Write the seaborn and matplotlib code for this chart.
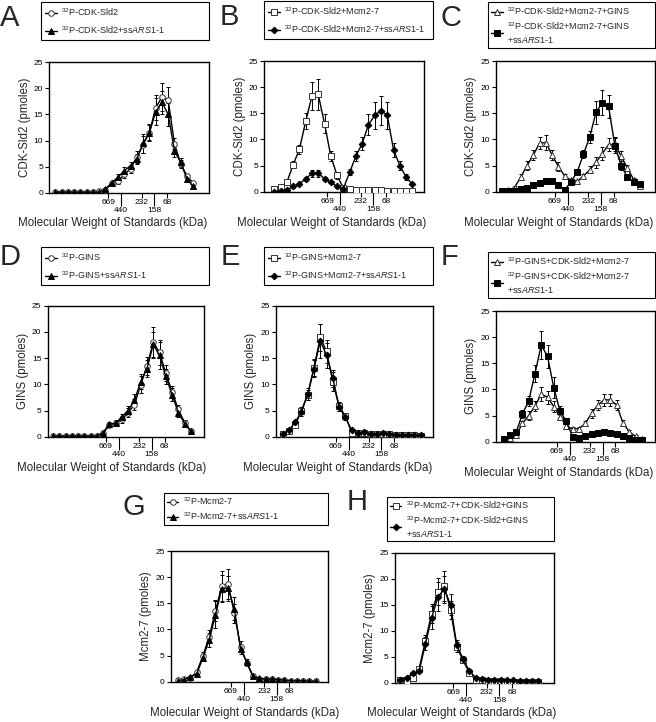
from __future__ import annotations

import matplotlib

matplotlib.use("Agg")
import matplotlib.pyplot as plt
import pandas as pd
import seaborn as sns

FIG_W, FIG_H = 656, 722

# gel filtration fractions and where the size standards elute
FRACTIONS = [1, 2, 3, 4, 5, 6, 7, 8, 9, 10, 11, 12, 13, 14, 15, 16, 17, 18, 19, 20, 21, 22, 23]
STANDARD_KDA = ["669", "440", "232", "158", "68"]
STANDARD_FRACTION = [9.45, 11.5, 14.75, 16.75, 18.8]

# --- A: 32P-CDK-Sld2 +/- ssARS1-1
A_FREE = [0.2, 0.2, 0.2, 0.2, 0.2, 0.2, 0.2, 0.3, 0.5, 1.9, 2.2, 3.5, 4.6, 6.8, 9.2, 11.5, 16.3, 18.3, 17.7, 9.4, 5.5, 3.2, 1.8]
A_FREE_ERR = [0.1, 0.1, 0.1, 0.1, 0.1, 0.1, 0.1, 0.1, 0.2, 0.4, 0.5, 0.7, 0.8, 1.2, 1.6, 1.6, 2.4, 2.7, 2.6, 1.0, 0.7, 0.4, 0.2]
A_SS = [0.1, 0.1, 0.1, 0.1, 0.1, 0.1, 0.1, 0.1, 0.7, 1.9, 3.0, 4.2, 5.2, 6.5, 9.5, 11.5, 15.5, 17.3, 15.0, 8.0, 5.8, 2.6, 1.2]
A_SS_ERR = [0.1, 0.1, 0.1, 0.1, 0.1, 0.1, 0.1, 0.1, 0.2, 0.3, 0.6, 0.8, 0.6, 1.0, 1.8, 1.4, 2.6, 2.2, 2.2, 1.2, 0.9, 0.4, 0.2]

# --- B: 32P-CDK-Sld2 + Mcm2-7
B_FREE = [0.5, 0.9, 1.8, 5.2, 8.1, 13.5, 18.3, 18.6, 13.0, 6.8, 3.1, 0.7, 0.5, 0.4, 0.4, 0.4, 0.3, 0.3, 0.2, 0.2, 0.2, 0.1, 0.1]
B_FREE_ERR = [0.1, 0.2, 0.3, 0.6, 0.8, 1.6, 2.7, 2.9, 1.8, 1.0, 0.6, 0.2, 0.1, 0.1, 0.1, 0.1, 0.1, 0.1, 0.1, 0.1, 0.1, 0.1, 0.1]
B_SS = [0.0, 0.1, 0.3, 1.0, 1.5, 2.5, 3.5, 3.5, 2.5, 1.8, 1.0, 0.6, 3.7, 6.8, 9.2, 12.8, 14.6, 15.5, 14.6, 8.0, 5.0, 2.8, 1.4]
B_SS_ERR = [0.1, 0.1, 0.1, 0.2, 0.2, 0.4, 0.6, 0.6, 0.4, 0.2, 0.2, 0.1, 0.6, 0.9, 1.3, 2.0, 2.6, 2.8, 2.6, 1.4, 0.8, 0.6, 0.2]

# --- C: 32P-CDK-Sld2 + Mcm2-7 + GINS
C_FREE = [0.1, 0.3, 0.8, 2.8, 5.0, 7.0, 9.3, 9.4, 7.0, 4.8, 3.0, 2.2, 2.0, 3.0, 4.2, 5.6, 7.3, 9.0, 9.1, 6.8, 4.5, 2.3, 1.0]
C_FREE_ERR = [0.1, 0.1, 0.2, 0.5, 0.8, 1.0, 1.2, 1.4, 1.0, 0.8, 0.4, 0.3, 0.3, 0.4, 0.7, 1.0, 1.2, 1.3, 1.4, 1.0, 0.6, 0.4, 0.2]
C_SS = [0.1, 0.1, 0.2, 0.5, 0.8, 1.2, 1.6, 2.0, 2.0, 1.3, 0.3, 1.9, 3.8, 7.2, 10.5, 15.2, 17.0, 16.3, 8.8, 5.0, 2.8, 1.8, 1.4]
C_SS_ERR = [0.1, 0.1, 0.1, 0.1, 0.1, 0.2, 0.3, 0.3, 0.3, 0.2, 0.2, 0.3, 0.6, 0.8, 1.2, 2.2, 2.4, 2.2, 1.4, 0.8, 0.5, 0.3, 0.3]

# --- D: 32P-GINS +/- ssARS1-1
D_FREE = [0.2, 0.2, 0.2, 0.2, 0.2, 0.2, 0.2, 0.2, 0.7, 2.2, 2.6, 3.3, 4.6, 6.1, 9.9, 13.5, 18.0, 16.1, 12.1, 8.6, 5.2, 2.7, 1.0]
D_FREE_ERR = [0.1, 0.1, 0.1, 0.1, 0.1, 0.1, 0.1, 0.1, 0.2, 0.4, 0.5, 0.6, 0.8, 1.0, 1.6, 1.8, 3.0, 2.4, 1.5, 1.0, 0.8, 0.4, 0.2]
D_SS = [0.1, 0.1, 0.1, 0.1, 0.1, 0.1, 0.1, 0.1, 0.8, 2.4, 2.6, 3.8, 5.0, 7.0, 10.5, 13.0, 17.6, 15.5, 11.5, 8.0, 4.6, 2.5, 1.1]
D_SS_ERR = [0.1, 0.1, 0.1, 0.1, 0.1, 0.1, 0.1, 0.1, 0.2, 0.4, 0.4, 0.6, 0.8, 1.2, 1.4, 1.6, 2.4, 2.6, 1.4, 1.2, 0.8, 0.4, 0.2]

# --- E: 32P-GINS + Mcm2-7
E_FREE = [0.5, 1.0, 2.2, 5.0, 8.0, 13.2, 19.0, 16.3, 10.5, 5.8, 4.0, 0.8, 0.7, 0.8, 0.5, 0.5, 0.5, 0.5, 0.3, 0.3, 0.3, 0.3, 0.2]
E_FREE_ERR = [0.1, 0.2, 0.4, 0.7, 1.0, 1.6, 2.6, 2.2, 1.8, 0.8, 0.6, 0.2, 0.1, 0.1, 0.1, 0.1, 0.1, 0.1, 0.1, 0.1, 0.1, 0.1, 0.1]
E_SS = [0.5, 1.2, 2.8, 4.7, 8.2, 13.0, 18.3, 15.6, 11.2, 5.7, 3.7, 1.2, 0.7, 0.9, 0.6, 0.6, 0.7, 0.6, 0.4, 0.4, 0.3, 0.3, 0.3]
E_SS_ERR = [0.1, 0.2, 0.4, 0.8, 1.1, 1.6, 3.2, 2.4, 1.6, 0.8, 0.6, 0.2, 0.1, 0.2, 0.1, 0.1, 0.2, 0.1, 0.1, 0.1, 0.1, 0.1, 0.1]

# --- F: 32P-GINS + CDK-Sld2 + Mcm2-7
F_FREE = [0.5, 0.8, 1.2, 3.5, 5.0, 6.8, 9.1, 8.5, 6.7, 4.8, 3.0, 2.4, 2.5, 3.5, 5.4, 7.0, 8.0, 8.0, 7.0, 3.6, 1.9, 1.0, 0.5]
F_FREE_ERR = [0.1, 0.1, 0.2, 0.5, 0.8, 1.0, 1.4, 1.2, 1.0, 0.7, 0.5, 0.4, 0.4, 0.5, 0.8, 1.0, 1.2, 1.2, 1.0, 0.5, 0.3, 0.2, 0.1]
F_SS = [0.6, 1.2, 1.8, 5.3, 7.8, 13.0, 18.5, 16.3, 10.3, 5.8, 3.9, 0.9, 0.8, 1.1, 1.4, 1.7, 1.8, 1.6, 1.4, 1.0, 0.7, 0.4, 0.3]
F_SS_ERR = [0.1, 0.2, 0.3, 0.7, 1.0, 1.6, 2.6, 2.2, 2.0, 1.0, 0.6, 0.2, 0.1, 0.2, 0.2, 0.3, 0.3, 0.2, 0.2, 0.1, 0.1, 0.1, 0.1]

# --- G: 32P-Mcm2-7 +/- ssARS1-1
G_FREE = [0.3, 0.6, 0.8, 1.8, 5.0, 8.6, 13.6, 18.3, 18.7, 13.1, 6.7, 3.5, 1.0, 0.6, 0.5, 0.5, 0.3, 0.3, 0.2, 0.2, 0.2, 0.1, 0.1]
G_FREE_ERR = [0.1, 0.2, 0.2, 0.3, 0.7, 1.2, 2.0, 2.8, 2.8, 1.8, 1.0, 0.5, 0.2, 0.1, 0.1, 0.1, 0.1, 0.1, 0.1, 0.1, 0.1, 0.1, 0.1]
G_SS = [0.2, 0.4, 0.9, 1.5, 4.6, 8.0, 12.8, 17.8, 17.9, 14.0, 6.2, 3.8, 1.0, 0.7, 0.5, 0.5, 0.4, 0.3, 0.2, 0.2, 0.2, 0.1, 0.1]
G_SS_ERR = [0.1, 0.1, 0.2, 0.3, 0.6, 1.4, 2.6, 2.6, 2.4, 2.2, 0.9, 0.6, 0.2, 0.1, 0.1, 0.1, 0.1, 0.1, 0.1, 0.1, 0.1, 0.1, 0.1]

# --- H: 32P-Mcm2-7 + CDK-Sld2 + GINS
H_FREE = [0.5, 0.4, 1.0, 2.7, 8.1, 13.3, 17.5, 18.6, 14.0, 6.9, 4.3, 1.9, 0.6, 0.5, 0.4, 0.3, 0.3, 0.2, 0.2, 0.2, 0.1, 0.1, 0.1]
H_FREE_ERR = [0.1, 0.1, 0.2, 0.4, 1.0, 1.8, 2.6, 2.8, 1.8, 1.0, 0.6, 0.3, 0.1, 0.1, 0.1, 0.1, 0.1, 0.1, 0.1, 0.1, 0.1, 0.1, 0.1]
H_SS = [0.6, 1.0, 1.8, 2.2, 7.5, 12.5, 16.5, 18.0, 15.0, 7.2, 4.6, 2.2, 1.0, 0.7, 0.6, 0.5, 0.5, 0.5, 0.5, 0.4, 0.3, 0.3, 0.3]
H_SS_ERR = [0.1, 0.2, 0.3, 0.4, 1.2, 2.2, 2.8, 2.6, 2.0, 1.0, 0.6, 0.4, 0.2, 0.1, 0.1, 0.1, 0.1, 0.1, 0.1, 0.1, 0.1, 0.1, 0.1]

SS = r"+ss$\mathit{ARS1}$-1"
P32 = r"$^{32}$P-"

CIRCLE_TRI = [("o", "white", 4.0), ("^", "black", 4.6)]
SQUARE_DIA = [("s", "white", 3.8), ("D", "black", 3.4)]
TRI_SQUARE = [("^", "white", 4.6), ("s", "black", 3.8)]

# layout in pixels: axes (left, top, right, bottom), legend box, letter (x, y), xlim
PANELS = [
    dict(letter="A", letter_xy=(0, 4), axes=(49.3, 62.3, 209, 192.7), legend=(41, 2, 209, 38), xlim=(0.05, 25.5),
         xlabel_x=0.396, ylabel="CDK-Sld2 (pmoles)", styles=CIRCLE_TRI, spacing=0.75, pad=0.45,
         series=[(A_FREE, A_FREE_ERR), (A_SS, A_SS_ERR)],
         labels=[P32 + "CDK-Sld2", P32 + "CDK-Sld2" + SS]),
    dict(letter="B", letter_xy=(220, 3), axes=(264.3, 61, 424.3, 191.7), legend=(264, 1, 433, 35), xlim=(-0.6, 24.9),
         xlabel_x=0.423, ylabel="CDK-Sld2 (pmoles)", styles=SQUARE_DIA, spacing=0.7, pad=0.45,
         series=[(B_FREE, B_FREE_ERR), (B_SS, B_SS_ERR)],
         labels=[P32 + "CDK-Sld2+Mcm2-7", P32 + "CDK-Sld2+Mcm2-7" + SS]),
    dict(letter="C", letter_xy=(441, 4), axes=(496, 61, 655, 191.7), legend=(488, 2, 655, 43), xlim=(0.05, 25.4),
         xlabel_x=0.396, ylabel="CDK-Sld2 (pmoles)", styles=TRI_SQUARE, spacing=0.35, pad=0.35,
         series=[(C_FREE, C_FREE_ERR), (C_SS, C_SS_ERR)],
         labels=[P32 + "CDK-Sld2+Mcm2-7+GINS", P32 + "CDK-Sld2+Mcm2-7+GINS\n" + SS]),
    dict(letter="D", letter_xy=(0, 243), axes=(47.7, 305.7, 204, 436.7), legend=(41, 247, 209, 283), xlim=(0.15, 25.1),
         xlabel_x=0.411, ylabel="GINS (pmoles)", styles=CIRCLE_TRI, spacing=0.75, pad=0.45,
         series=[(D_FREE, D_FREE_ERR), (D_SS, D_SS_ERR)],
         labels=[P32 + "GINS", P32 + "GINS" + SS]),
    dict(letter="E", letter_xy=(221, 243), axes=(276, 306, 433.3, 436.7), legend=(264, 247, 433, 285), xlim=(-0.05, 25.0),
         xlabel_x=0.394, ylabel="GINS (pmoles)", styles=SQUARE_DIA, spacing=0.75, pad=0.45,
         series=[(E_FREE, E_FREE_ERR), (E_SS, E_SS_ERR)],
         labels=[P32 + "GINS+Mcm2-7", P32 + "GINS+Mcm2-7" + SS]),
    dict(letter="F", letter_xy=(441, 243), axes=(496, 311, 655, 441.7), legend=(488, 252, 655, 293), xlim=(-0.2, 25.1),
         xlabel_x=0.396, ylabel="GINS (pmoles)", styles=TRI_SQUARE, spacing=0.35, pad=0.35,
         series=[(F_FREE, F_FREE_ERR), (F_SS, F_SS_ERR)],
         labels=[P32 + "GINS+CDK-Sld2+Mcm2-7", P32 + "GINS+CDK-Sld2+Mcm2-7\n" + SS]),
    dict(letter="G", letter_xy=(122, 493), axes=(171, 551, 328.3, 681.7), legend=(164, 493, 328, 520), xlim=(-0.1, 25.0),
         xlabel_x=0.47, ylabel="Mcm2-7 (pmoles)", styles=CIRCLE_TRI, spacing=0.3, pad=0.3,
         series=[(G_FREE, G_FREE_ERR), (G_SS, G_SS_ERR)],
         labels=[P32 + "Mcm2-7", P32 + "Mcm2-7" + SS]),
    dict(letter="H", letter_xy=(347, 488), axes=(395, 552.7, 554, 682.7), legend=(387, 497, 554, 539), xlim=(0.15, 25.5),
         xlabel_x=0.42, ylabel="Mcm2-7 (pmoles)", styles=SQUARE_DIA, spacing=0.3, pad=0.3,
         series=[(H_FREE, H_FREE_ERR), (H_SS, H_SS_ERR)],
         labels=[P32 + "Mcm2-7+CDK-Sld2+GINS", P32 + "Mcm2-7+CDK-Sld2+GINS\n" + SS]),
]

sns.set_theme(style="ticks")
plt.rcParams["font.family"] = ["Liberation Sans", "DejaVu Sans"]
plt.rcParams["mathtext.fontset"] = "custom"
plt.rcParams["mathtext.rm"] = "Liberation Sans"
plt.rcParams["mathtext.it"] = "Liberation Sans:italic"
plt.rcParams["mathtext.bf"] = "Liberation Sans:bold"
plt.rcParams["axes.edgecolor"] = "black"
plt.rcParams["xtick.color"] = "black"
plt.rcParams["ytick.color"] = "black"


def px_rect(left: float, top: float, right: float, bottom: float) -> list[float]:
    return [left / FIG_W, 1 - bottom / FIG_H, (right - left) / FIG_W, (bottom - top) / FIG_H]


def draw_panel(fig: plt.Figure, panel: dict) -> None:
    ax = fig.add_axes(px_rect(*panel["axes"]))
    handles = []
    for (values, errors), (marker, face, size) in zip(panel["series"], panel["styles"]):
        df = pd.DataFrame({"fraction": FRACTIONS, "pmoles": values, "err": errors})
        ax.errorbar(df["fraction"], df["pmoles"], yerr=df["err"], fmt="none", ecolor="black",
                    elinewidth=0.7, capsize=1.5, capthick=0.7, zorder=2)
        sns.lineplot(data=df, x="fraction", y="pmoles", ax=ax, color="black", linewidth=1.0,
                     errorbar=None, legend=False, marker=marker, markersize=size,
                     markerfacecolor=face, markeredgecolor="#333333" if face == "white" else "black",
                     markeredgewidth=0.7, zorder=3)
        handles.append(ax.lines[-1])

    ax.set_xlim(*panel["xlim"])
    ax.set_ylim(0, 25)
    ax.set_yticks([0, 5, 10, 15, 20, 25])
    upper = [0, 2, 4]
    lower = [1, 3]
    ax.set_xticks([STANDARD_FRACTION[i] for i in upper], labels=[STANDARD_KDA[i] for i in upper])
    ax.set_xticks([STANDARD_FRACTION[i] for i in lower], labels=[STANDARD_KDA[i] for i in lower], minor=True)
    ax.tick_params(axis="x", which="major", length=3.5, width=0.8, pad=1.0, labelsize=6)
    ax.tick_params(axis="x", which="minor", length=9.5, width=0.8, pad=1.0, labelsize=6)
    ax.tick_params(axis="y", length=3, width=0.8, pad=1.5, labelsize=6)
    for spine in ax.spines.values():
        spine.set_visible(True)
        spine.set_linewidth(1.0)
        spine.set_color("black")
    ax.set_xlabel("Molecular Weight of Standards (kDa)", fontsize=8.3)
    ax.xaxis.set_label_coords(panel["xlabel_x"], -0.19)
    ax.set_ylabel(panel["ylabel"], fontsize=8.3, labelpad=2)

    l, t, r, b = panel["legend"]
    leg = ax.legend(handles, panel["labels"], loc="upper left",
                    bbox_to_anchor=(l / FIG_W, 1 - b / FIG_H, (r - l) / FIG_W, (b - t) / FIG_H),
                    bbox_transform=fig.transFigure, mode="expand", borderaxespad=0,
                    frameon=True, fancybox=False, edgecolor="black", framealpha=1,
                    fontsize=6.5, handlelength=1.3, handletextpad=0.5, borderpad=panel["pad"],
                    labelspacing=panel["spacing"], numpoints=1)
    leg.get_frame().set_linewidth(0.8)

    x, y = panel["letter_xy"]
    fig.text(x / FIG_W, 1 - y / FIG_H, panel["letter"], fontsize=21, ha="left", va="top")


def main() -> None:
    fig = plt.figure(figsize=(FIG_W / 100, FIG_H / 100), dpi=100)
    for panel in PANELS:
        draw_panel(fig, panel)
    fig.savefig("out.png", dpi=100)
    plt.close(fig)


if __name__ == "__main__":
    main()
